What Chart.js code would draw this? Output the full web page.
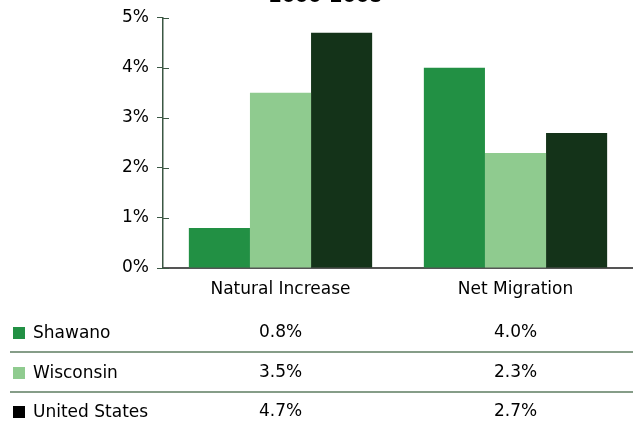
<!DOCTYPE html>
<html>
<head>
<meta charset="utf-8">
<script src="https://cdn.jsdelivr.net/npm/chart.js@4/dist/chart.umd.min.js"></script>
<style>
  html, body { margin: 0; padding: 0; background: #fff; overflow: hidden; }
  #wrap { position: absolute; left: 0; top: -20px; width: 633px; height: 444px; }
</style>
</head>
<body>
<div id="wrap"><canvas id="c" width="633" height="444"></canvas></div>
<script>
const titleText = ["2000-2008"];
const categories = ["Natural Increase", "Net Migration"];
const seriesNames = ["Shawano", "Wisconsin", "United States"];
const shawano = [0.8, 4.0];
const wisconsin = [3.5, 2.3];
const unitedStates = [4.7, 2.7];
const yTicks = [0, 1, 2, 3, 4, 5];

const colors = ["#229044", "#8fcb8f", "#143319"];
const legendColors = ["#229044", "#8fcb8f", "#000000"];
const FONT = "'DejaVu Sans', sans-serif";

const tablePlugin = {
  id: 'dataTable',
  afterDraw(chart) {
    const ctx = chart.ctx;
    const x = chart.scales.x;
    const y = chart.scales.y;
    ctx.save();
    // inner parts of the y-axis ticks
    ctx.strokeStyle = '#3b5743';
    ctx.lineWidth = 1;
    yTicks.forEach(v => {
      const py = Math.round(y.getPixelForValue(v)) + 0.5;
      ctx.beginPath();
      ctx.moveTo(x.left, py);
      ctx.lineTo(x.left + 6, py);
      ctx.stroke();
    });
    // table
    const rowY = [353, 393, 432];
    const sepY = [372, 412];
    ctx.strokeStyle = '#5e7d60';
    ctx.lineWidth = 1.5;
    sepY.forEach(sy => {
      ctx.beginPath();
      ctx.moveTo(10, sy);
      ctx.lineTo(633, sy);
      ctx.stroke();
    });
    const values = [shawano, wisconsin, unitedStates];
    ctx.font = "17px " + FONT;
    ctx.textBaseline = 'middle';
    seriesNames.forEach((name, i) => {
      ctx.fillStyle = legendColors[i];
      ctx.fillRect(13, rowY[i] - 6, 12, 12);
      ctx.fillStyle = '#000';
      ctx.textAlign = 'left';
      ctx.fillText(name, 33, rowY[i] + 1);
      ctx.textAlign = 'center';
      categories.forEach((c, j) => {
        ctx.fillText(values[i][j].toFixed(1) + '%', x.getPixelForValue(j), rowY[i]);
      });
    });
    ctx.restore();
  }
};

new Chart(document.getElementById('c'), {
  type: 'bar',
  data: {
    labels: categories,
    datasets: [
      { label: seriesNames[0], data: shawano, backgroundColor: colors[0] },
      { label: seriesNames[1], data: wisconsin, backgroundColor: colors[1] },
      { label: seriesNames[2], data: unitedStates, backgroundColor: colors[2] }
    ]
  },
  options: {
    responsive: false,
    animation: false,
    layout: { padding: { left: 18, right: 0, top: 0, bottom: 0 } },
    datasets: { bar: { categoryPercentage: 0.78, barPercentage: 1.0, borderWidth: 0 } },
    plugins: {
      legend: { display: false },
      tooltip: { enabled: false },
      title: {
        display: true,
        text: titleText,
        color: '#000',
        font: { family: FONT, size: 19, weight: 'bold' },
        padding: { top: 6, bottom: 9 }
      }
    },
    scales: {
      x: {
        afterFit(s) { s.height = 156; },
        grid: { display: false, drawTicks: false },
        border: { display: true, color: '#555555', width: 2 },
        ticks: { color: '#000', font: { family: FONT, size: 17 }, padding: 11 }
      },
      y: {
        min: 0, max: 5,
        afterFit(s) { s.width = 145; },
        afterBuildTicks(s) { s.ticks = yTicks.map(v => ({ value: v })); },
        grid: { drawOnChartArea: false, drawTicks: true, tickLength: 6, color: '#3b5743' },
        border: { display: true, color: '#3b5743', width: 1.5 },
        ticks: {
          color: '#000',
          font: { family: FONT, size: 17 },
          padding: 8,
          callback: v => v + '%'
        }
      }
    }
  },
  plugins: [tablePlugin]
});
</script>
</body>
</html>
